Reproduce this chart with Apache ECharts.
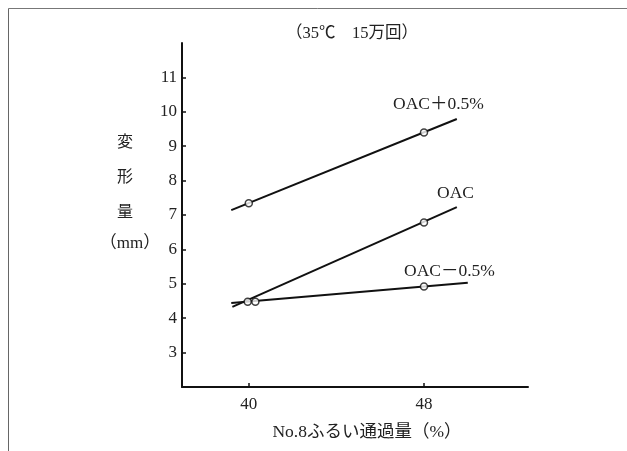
<!DOCTYPE html>
<html>
<head>
<meta charset="utf-8">
<script src="https://cdn.jsdelivr.net/npm/echarts@6/dist/echarts.min.js"></script>
<style>
  html, body { margin: 0; padding: 0; background: #fff; }
  #chart { width: 627px; height: 451px; }
</style>
</head>
<body>
<div id="chart"></div>
<script>
// 軸
var xTicks = [40, 48];
var yTicks = [3, 4, 5, 6, 7, 8, 9, 10, 11];

// OAC+0.5%
var plusLineX = [39.2, 49.5];
var plusLineY = [7.14, 9.79];
var plusPtX = [40, 48];
var plusPtY = [7.34, 9.40];

// OAC
var oacLineX = [39.25, 49.5];
var oacLineY = [4.33, 7.23];
var oacPtX = [40.3, 48];
var oacPtY = [4.48, 6.78];

// OAC-0.5%
var minusLineX = [39.2, 50.0];
var minusLineY = [4.44, 5.03];
var minusPtX = [39.95, 48];
var minusPtY = [4.48, 4.92];

var FONT = "'Liberation Serif', 'Noto Sans CJK JP', serif";

function pairs(xs, ys) {
    var out = [];
    for (var i = 0; i < xs.length; i++) {
        out.push([xs[i], ys[i]]);
    }
    return out;
}

function fitLine(name, xs, ys) {
    return {
        name: name,
        type: 'line',
        data: pairs(xs, ys),
        showSymbol: false,
        symbol: 'none',
        lineStyle: { color: '#111', width: 2 },
        z: 2,
        silent: true
    };
}

function points(name, xs, ys) {
    return {
        name: name,
        type: 'scatter',
        data: pairs(xs, ys),
        symbol: 'circle',
        symbolSize: 7,
        itemStyle: { color: '#fff', borderColor: '#111', borderWidth: 1.5 },
        z: 3,
        silent: true
    };
}

function txt(str, x, y, size, align) {
    return {
        type: 'text',
        x: x,
        y: y,
        style: {
            text: str,
            font: size + 'px ' + FONT,
            fill: '#222',
            textAlign: align || 'left',
            textVerticalAlign: 'middle'
        }
    };
}

var chart = echarts.init(document.getElementById('chart'));

var option = {
    animation: false,
    backgroundColor: '#fff',
    grid: { left: 182, right: 99, top: 43, bottom: 64 },
    xAxis: {
        type: 'value',
        min: 36.95,
        max: 52.75,
        splitLine: { show: false },
        axisLine: { lineStyle: { color: '#111', width: 2 } },
        axisTick: { inside: true, length: 4, customValues: xTicks, lineStyle: { color: '#111', width: 1.5 } },
        axisLabel: { customValues: xTicks, color: '#222', fontFamily: FONT, fontSize: 17, margin: 9 }
    },
    yAxis: {
        type: 'value',
        min: 2,
        max: 12,
        interval: 1,
        splitLine: { show: false },
        axisLine: { onZero: false, lineStyle: { color: '#111', width: 2 } },
        axisTick: { inside: true, length: 4, customValues: yTicks, lineStyle: { color: '#111', width: 1.5 } },
        axisLabel: { customValues: yTicks, color: '#222', fontFamily: FONT, fontSize: 17, margin: 5 }
    },
    series: [
        fitLine('OAC+0.5%', plusLineX, plusLineY),
        fitLine('OAC', oacLineX, oacLineY),
        fitLine('OAC-0.5%', minusLineX, minusLineY),
        points('OAC+0.5%', plusPtX, plusPtY),
        points('OAC', oacPtX, oacPtY),
        points('OAC-0.5%', minusPtX, minusPtY)
    ],
    graphic: [
        // 枠線
        { type: 'line', shape: { x1: 8.5, y1: 8.5, x2: 627, y2: 8.5 }, style: { stroke: '#777', lineWidth: 1 } },
        { type: 'line', shape: { x1: 8.5, y1: 8.5, x2: 8.5, y2: 451 }, style: { stroke: '#666', lineWidth: 1 } },
        txt('（35℃　15万回）', 352, 34, 16.5, 'center'),
        txt('変', 125, 143, 16, 'center'),
        txt('形', 125, 178, 16, 'center'),
        txt('量', 125, 213, 16, 'center'),
        txt('（mm）', 130, 244, 17, 'center'),
        txt('OAC＋0.5%', 393, 104, 17.5),
        txt('OAC', 437, 193, 17.5),
        txt('OAC－0.5%', 404, 271, 17.5),
        txt('No.8ふるい通過量（%）', 367, 432, 17.5, 'center')
    ]
};

chart.setOption(option);
</script>
</body>
</html>
